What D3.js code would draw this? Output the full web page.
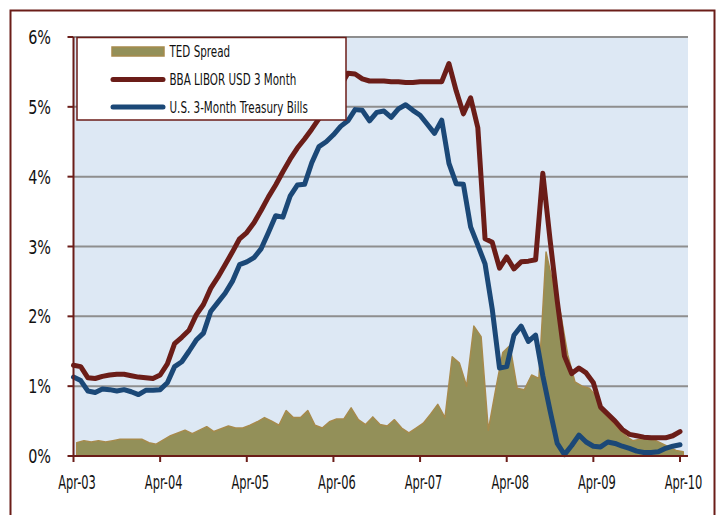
<!DOCTYPE html>
<html>
<head>
<meta charset="utf-8">
<script src="https://cdn.jsdelivr.net/npm/d3@7/dist/d3.min.js"></script>
<style>
  body { margin: 0; background: #fff; }
  svg { display: block; }
  text { font-family: "Liberation Sans Narrow", "DejaVu Sans Condensed", sans-serif; fill: #111; }
</style>
</head>
<body>
<svg width="718" height="515"></svg>
<script>
// monthly values, Apr-03 .. Apr-10 (85 months)
var libor = [
  1.30, 1.28, 1.12, 1.11, 1.14, 1.16, 1.17, 1.17, 1.15, 1.13, 1.12, 1.11,
  1.16, 1.32, 1.61, 1.70, 1.80, 2.02, 2.17, 2.40, 2.56, 2.74, 2.92, 3.11,
  3.20, 3.34, 3.52, 3.71, 3.88, 4.07, 4.25, 4.41, 4.54, 4.68, 4.83, 5.00,
  5.15, 5.30, 5.48, 5.47, 5.40, 5.37, 5.37, 5.37, 5.36, 5.36, 5.35, 5.35,
  5.36, 5.36, 5.36, 5.36, 5.62, 5.23, 4.90, 5.13, 4.70, 3.11, 3.06, 2.69,
  2.85, 2.68, 2.78, 2.79, 2.81, 4.05, 3.10, 2.22, 1.43, 1.18, 1.26, 1.19,
  1.05, 0.70, 0.60, 0.50, 0.38, 0.31, 0.29, 0.27, 0.26, 0.26, 0.26, 0.29,
  0.35
];
var tbills = [
  1.13, 1.08, 0.93, 0.91, 0.96, 0.95, 0.93, 0.95, 0.92, 0.88, 0.94, 0.94,
  0.95, 1.05, 1.28, 1.35, 1.50, 1.66, 1.76, 2.07, 2.20, 2.33, 2.50, 2.74,
  2.78, 2.84, 2.97, 3.20, 3.44, 3.42, 3.72, 3.88, 3.89, 4.20, 4.43, 4.50,
  4.60, 4.72, 4.80, 4.96, 4.95, 4.80, 4.92, 4.94, 4.85, 4.97, 5.03, 4.95,
  4.88, 4.75, 4.62, 4.81, 4.19, 3.90, 3.89, 3.28, 3.02, 2.75, 2.10, 1.26,
  1.28, 1.73, 1.86, 1.64, 1.73, 1.15, 0.65, 0.18, 0.02, 0.15, 0.30, 0.20,
  0.14, 0.13, 0.20, 0.18, 0.14, 0.11, 0.07, 0.05, 0.05, 0.06, 0.11, 0.14,
  0.16
];
var ted = [
  0.19, 0.22, 0.20, 0.22, 0.20, 0.22, 0.24, 0.24, 0.24, 0.24, 0.19, 0.17,
  0.23, 0.29, 0.33, 0.37, 0.32, 0.37, 0.42, 0.35, 0.39, 0.43, 0.40, 0.40,
  0.44, 0.49, 0.55, 0.50, 0.44, 0.65, 0.55, 0.55, 0.65, 0.44, 0.40, 0.49,
  0.53, 0.53, 0.69, 0.52, 0.45, 0.56, 0.45, 0.43, 0.52, 0.40, 0.33, 0.40,
  0.47, 0.60, 0.74, 0.55, 1.42, 1.33, 1.00, 1.86, 1.71, 0.37, 0.94, 1.48,
  1.58, 0.97, 0.95, 1.16, 1.11, 2.92, 2.45, 2.05, 1.45, 1.06, 1.00, 0.97,
  0.85, 0.62, 0.50, 0.39, 0.29, 0.22, 0.24, 0.25, 0.23, 0.18, 0.13, 0.08,
  0.06
];
var tickLabels = ['Apr-03', 'Apr-04', 'Apr-05', 'Apr-06', 'Apr-07', 'Apr-08', 'Apr-09', 'Apr-10'];
var yTicks = [0, 1, 2, 3, 4, 5, 6];
var seriesNames = ['TED Spread', 'BBA LIBOR USD 3 Month', 'U.S. 3-Month Treasury Bills'];

var red = '#6b1d18';
var blue = '#1b4877';
var olive = '#939059';
var oliveEdge = '#a68a4c';

var svg = d3.select('svg');

// plot area (note: "top" is taken by window.top, so prefixed names)
var plotLeft = 73.5, plotRight = 688, plotTop = 37, plotBottom = 456;
var x = d3.scaleLinear().domain([0, 84]).range([plotLeft, 680]);
var y = d3.scaleLinear().domain([0, 6]).range([plotBottom, plotTop]);
// the spread is plotted half a month later than the two rates
var tedOffset = 0.45;

// outer frame
svg.append('rect')
    .attr('x', 10.5).attr('y', 10.5)
    .attr('width', 704).attr('height', 520)
    .attr('fill', 'none')
    .attr('stroke', red)
    .attr('stroke-width', 2);

svg.append('rect')
    .attr('x', plotLeft).attr('y', plotTop)
    .attr('width', plotRight - plotLeft).attr('height', plotBottom - plotTop)
    .attr('fill', '#dde8f4');

// grid lines
svg.append('g').selectAll('line')
    .data(yTicks.slice(1))
    .join('line')
    .attr('x1', plotLeft).attr('x2', plotRight)
    .attr('y1', function(d) { return y(d); })
    .attr('y2', function(d) { return y(d); })
    .attr('stroke', '#8e8e8e')
    .attr('stroke-width', 2);

// TED area
var area = d3.area()
    .x(function(d, i) { return x(i + tedOffset); })
    .y0(y(0))
    .y1(function(d) { return y(d); });

svg.append('path')
    .datum(ted)
    .attr('d', area)
    .attr('fill', olive)
    .attr('stroke', oliveEdge)
    .attr('stroke-width', 1.5)
    .attr('stroke-linejoin', 'round');

var line = d3.line()
    .x(function(d, i) { return x(i); })
    .y(function(d) { return y(d); });

svg.append('path')
    .datum(libor)
    .attr('d', line)
    .attr('fill', 'none')
    .attr('stroke', red)
    .attr('stroke-width', 5)
    .attr('stroke-linejoin', 'round')
    .attr('stroke-linecap', 'round');

svg.append('path')
    .datum(tbills)
    .attr('d', line)
    .attr('fill', 'none')
    .attr('stroke', blue)
    .attr('stroke-width', 5)
    .attr('stroke-linejoin', 'round')
    .attr('stroke-linecap', 'round');

// axes
var yAxis = svg.append('g');
yAxis.append('line')
    .attr('x1', plotLeft).attr('x2', plotLeft)
    .attr('y1', plotTop).attr('y2', plotBottom)
    .attr('stroke', red).attr('stroke-width', 2);
yAxis.selectAll('.tick')
    .data(yTicks)
    .join('line')
    .attr('class', 'tick')
    .attr('x1', plotLeft - 6).attr('x2', plotLeft)
    .attr('y1', function(d) { return y(d); })
    .attr('y2', function(d) { return y(d); })
    .attr('stroke', red).attr('stroke-width', 2);
yAxis.selectAll('text')
    .data(yTicks)
    .join('text')
    .attr('transform', function(d) { return 'translate(51,' + (y(d) + 7) + ') scale(0.8,1)'; })
    .attr('text-anchor', 'end')
    .style('font-size', '20px')
    .text(function(d) { return d + '%'; });

var xAxis = svg.append('g');
xAxis.append('line')
    .attr('x1', plotLeft).attr('x2', plotRight)
    .attr('y1', plotBottom).attr('y2', plotBottom)
    .attr('stroke', red).attr('stroke-width', 2);
xAxis.selectAll('.tick')
    .data(tickLabels)
    .join('line')
    .attr('class', 'tick')
    .attr('x1', function(d, i) { return x(i * 12); })
    .attr('x2', function(d, i) { return x(i * 12); })
    .attr('y1', plotBottom).attr('y2', plotBottom + 6)
    .attr('stroke', red).attr('stroke-width', 2);
xAxis.selectAll('text')
    .data(tickLabels)
    .join('text')
    .attr('transform', function(d, i) { return 'translate(' + (x(i * 12) + 3.5) + ',489) scale(0.67,1)'; })
    .attr('text-anchor', 'middle')
    .style('font-size', '19px')
    .text(function(d) { return d; });

// legend
var legend = svg.append('g');
legend.append('rect')
    .attr('x', 77).attr('y', 37.5)
    .attr('width', 269).attr('height', 82.5)
    .attr('fill', '#fff')
    .attr('stroke', red)
    .attr('stroke-width', 1.5);

var rowY = [51.5, 79.5, 107];
legend.append('rect')
    .attr('x', 112).attr('y', rowY[0] - 4.5)
    .attr('width', 52).attr('height', 9)
    .attr('fill', olive)
    .attr('stroke', oliveEdge)
    .attr('stroke-width', 1.5);
legend.selectAll('.swatch')
    .data([red, blue])
    .join('line')
    .attr('class', 'swatch')
    .attr('x1', 113).attr('x2', 163)
    .attr('y1', function(d, i) { return rowY[i + 1]; })
    .attr('y2', function(d, i) { return rowY[i + 1]; })
    .attr('stroke', function(d) { return d; })
    .attr('stroke-width', 5)
    .attr('stroke-linecap', 'round');
legend.selectAll('text')
    .data(seriesNames)
    .join('text')
    .attr('transform', function(d, i) { return 'translate(169.5,' + (rowY[i] + 5.5) + ') scale(0.72,1)'; })
    .style('font-size', '16px')
    .text(function(d) { return d; });
</script>
</body>
</html>
